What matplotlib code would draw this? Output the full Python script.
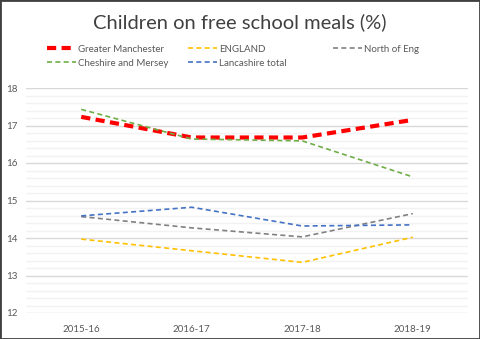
import numpy as np
import matplotlib
matplotlib.use('Agg')
import matplotlib.pyplot as plt
from matplotlib.patches import Rectangle

years = ['2015-16', '2016-17', '2017-18', '2018-19']
greater_manchester = [17.23, 16.68, 16.68, 17.15]
england = [13.97, 13.66, 13.35, 14.02]
north_of_eng = [14.57, 14.27, 14.03, 14.65]
cheshire_mersey = [17.43, 16.64, 16.59, 15.63]
lancashire = [14.59, 14.82, 14.32, 14.35]

plt.rcParams['font.family'] = ['Lato', 'DejaVu Sans']

fig = plt.figure(figsize=(4.8, 3.39), dpi=100)
ax = fig.add_axes([26 / 480, 1 - 313 / 339, (468 - 26) / 480, (313 - 88) / 339])

x = np.arange(len(years))
series = [
    ('Greater Manchester', greater_manchester, '#FF0000', 3.0, (2.2, 1.3)),
    ('ENGLAND', england, '#FFC000', 1.2, (3, 2)),
    ('North of Eng', north_of_eng, '#808080', 1.2, (3, 2)),
    ('Cheshire and Mersey', cheshire_mersey, '#70AD47', 1.2, (3, 2)),
    ('Lancashire total', lancashire, '#4472C4', 1.2, (3, 2)),
]
lines = []
for label, vals, color, lw, dash in series:
    ln, = ax.plot(x, vals, color=color, lw=lw, dashes=dash, label=label, zorder=3)
    lines.append(ln)

ax.set_xlim(-0.5, 3.5)
ax.set_ylim(12, 18)
ax.set_xticks(x)
ax.set_xticklabels(years)
ax.set_yticks(range(12, 19))
ax.set_yticks(np.arange(12, 18.01, 0.2), minor=True)
ax.grid(axis='y', which='major', color='#D9D9D9', lw=1.0)
ax.grid(axis='y', which='minor', color='#F2F2F2', lw=1.0)
ax.set_axisbelow(True)
for s in ax.spines.values():
    s.set_visible(False)
ax.tick_params(axis='both', which='both', length=0, labelsize=7, labelcolor='#595959')
ax.tick_params(axis='x', pad=9)
ax.tick_params(axis='y', pad=6)

fig.text(0.5, 1 - 22 / 339, 'Children on free school meals (%)', ha='center', va='center',
         fontsize=14.5, color='#404040')

# legend in three columns, rows filled left to right
columns = [(lines[0], lines[3]), (lines[1], lines[4]), (lines[2],)]
col_x = [40, 181, 326]
for handles, cx in zip(columns, col_x):
    leg = fig.legend(handles=list(handles), loc='upper left',
                     bbox_to_anchor=(cx / 480, 1 - 38 / 339), frameon=False,
                     fontsize=7, handlelength=3, handletextpad=0.2, labelspacing=0.5,
                     borderpad=0.2)
    for t in leg.get_texts():
        t.set_color('#595959')

fig.patches.append(Rectangle((0, 0), 1, 1, transform=fig.transFigure, fill=False,
                             edgecolor='#404040', lw=2))

fig.savefig('out.png', dpi=100, facecolor='white')
